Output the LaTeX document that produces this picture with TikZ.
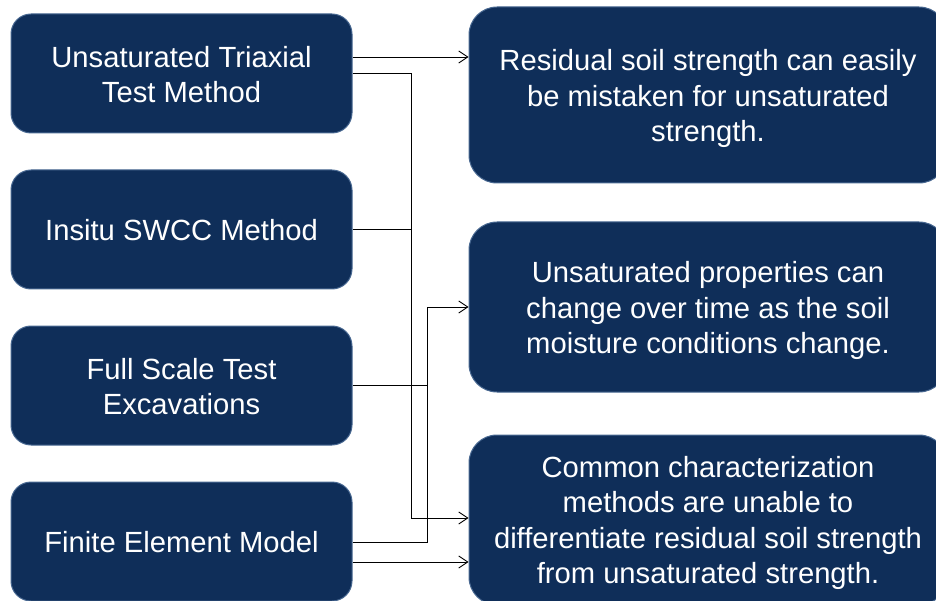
\documentclass[tikz,border=0pt]{standalone}
\usepackage{fontspec}
\setmainfont{Liberation Sans}
\usetikzlibrary{arrows.meta}
\definecolor{navy}{RGB}{15,46,89}
\definecolor{navyedge}{RGB}{72,104,145}
\begin{document}
\begin{tikzpicture}[x=1pt,y=-1pt,
  box/.style={draw=navyedge, line width=1pt, fill=navy, inner sep=0pt},
  srcbox/.style={box, rounded corners=20pt, minimum width=341pt, minimum height=119pt},
  dstbox/.style={box, rounded corners=28pt, minimum width=478pt, minimum height=170pt},
  txt/.style={text=white, align=center, inner sep=0pt,
    font=\fontsize{29.2}{35.3}\selectfont},
  link/.style={draw=black, line width=0.9pt},
  tip/.style={link, -{Straight Barb[length=9pt,width=12pt]}}]
\useasboundingbox (0,0) rectangle (936,601);

% methods (left column)
\node[srcbox] (L1) at (181.5,73.5) {};
\node[srcbox] (L2) at (181.5,229.5) {};
\node[srcbox] (L3) at (181.5,385.5) {};
\node[srcbox] (L4) at (181.5,541.5) {};
\node[txt] (L1t) at ([yshift=-1pt]L1.center) {Unsaturated Triaxial\\Test Method};
\node[txt] (L2t) at ([yshift=-0.5pt]L2.center) {Insitu SWCC Method};
\node[txt] (L3t) at ([yshift=-1pt]L3.center) {Full Scale Test\\Excavations};
\node[txt] (L4t) at ([yshift=-1pt]L4.center) {Finite Element Model};

% findings (right column)
\node[dstbox, minimum height=176pt] (R1) at (708,95) {};
\node[dstbox] (R2) at (708,307) {};
\node[dstbox] (R3) at (708,520) {};
\node[txt] (R1t) at ([yshift=-3.5pt]R1.center) {Residual soil strength can easily\\be mistaken for unsaturated\\strength.};
\node[txt] (R2t) at ([yshift=-3.5pt]R2.center) {Unsaturated properties can\\change over time as the soil\\moisture conditions change.};
\node[txt] (R3t) at ([yshift=-3pt]R3.center) {Common characterization\\methods are unable to\\differentiate residual soil strength\\from unsaturated strength.};

% connector anchors
\coordinate (trunkA) at (411,0);
\coordinate (trunkB) at (427,0);
\coordinate (a1) at ([yshift=16.5pt]L1.east);
\coordinate (a2) at ([yshift=0.5pt]L1.east);
\coordinate (b4) at ([yshift=-0.5pt]L4.east);
\coordinate (c4) at ([yshift=-20.5pt]L4.east);
\coordinate (r3a) at ([yshift=2pt]R3.west);

% connectors
\draw[tip] (a1) -- (a1 -| R1.west);
\draw[tip] (a2) -- (a2 -| trunkA) -- (trunkA |- r3a) -- (r3a);
\draw[link] (L2.east) -- (L2.east -| trunkA);
\draw[tip] (L3.east) -- (L3.east -| trunkB) -- (trunkB |- R2.west) -- (R2.west);
\draw[link] (b4) -- (b4 -| trunkB) -- (trunkB |- L3.east);
\draw[tip] (c4) -- (c4 -| R3.west);
\end{tikzpicture}
\end{document}
